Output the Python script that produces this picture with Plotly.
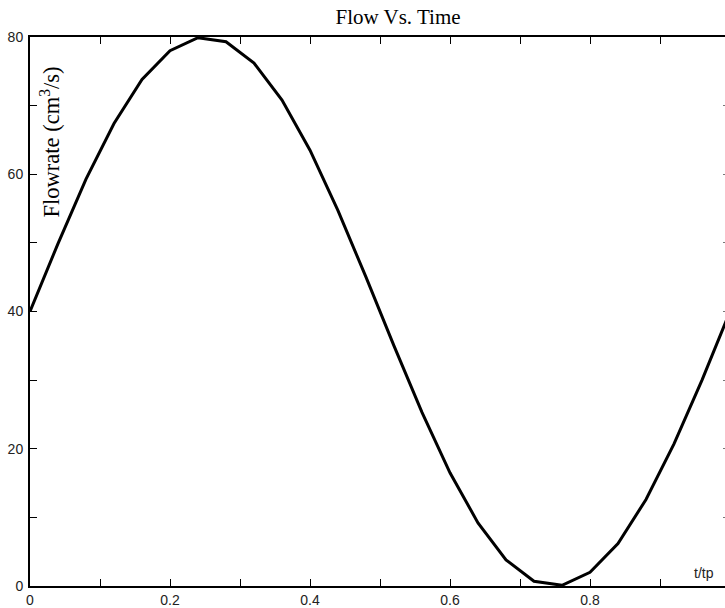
import plotly.graph_objects as go

t_over_tp = [0.00, 0.04, 0.08, 0.12, 0.16, 0.20, 0.24, 0.28, 0.32, 0.36, 0.40, 0.44, 0.48,
             0.52, 0.56, 0.60, 0.64, 0.68, 0.72, 0.76, 0.80, 0.84, 0.88, 0.92, 0.96, 1.00]
flowrate = [40.0, 49.9, 59.3, 67.4, 73.8, 78.0, 79.9, 79.3, 76.2, 70.8, 63.5, 54.7, 45.0,
            35.0, 25.3, 16.5, 9.2, 3.8, 0.7, 0.1, 2.0, 6.2, 12.6, 20.7, 30.0, 40.0]

x_ticks = [0.0, 0.2, 0.4, 0.6, 0.8]
x_tick_text = ["0", "0.2", "0.4", "0.6", "0.8"]
y_ticks = [0, 20, 40, 60, 80]
y_tick_text = ["0", "20", "40", "60", "80"]

W, H = 725, 608
ML, MR, MT, MB = 30, 0, 37, 19
px_per_unit_x = 700.0  # 0.1 per 70 px
x_max = (W - ML - MR) / px_per_unit_x

tick_font = dict(family="Liberation Sans, Arial, sans-serif", size=14, color="#222222")
serif = "Liberation Serif, Times New Roman, serif"

fig = go.Figure()
fig.add_trace(go.Scatter(x=t_over_tp, y=flowrate, mode="lines",
                         line=dict(color="black", width=3), showlegend=False,
                         hoverinfo="skip"))
# invisible trace to carry the right-side tick stubs
fig.add_trace(go.Scatter(x=[0], y=[0], yaxis="y2", mode="markers",
                         marker=dict(opacity=0), showlegend=False, hoverinfo="skip"))

fig.update_layout(
    width=W, height=H,
    margin=dict(l=ML, r=MR, t=MT, b=MB, pad=0),
    paper_bgcolor="white", plot_bgcolor="white",
    title=dict(text="Flow Vs. Time", x=398 / W, xanchor="center",
               y=1 - 17 / H, yanchor="middle",
               font=dict(family=serif, size=21, color="black")),
    xaxis=dict(range=[0, x_max], tickmode="array", tickvals=x_ticks, ticktext=x_tick_text,
               ticks="inside", ticklen=7, tickwidth=1, tickcolor="black",
               minor=dict(dtick=0.1, tick0=0, ticks="inside", ticklen=7, tickwidth=1,
                          tickcolor="black", showgrid=False),
               showline=True, linecolor="black", linewidth=2, mirror="ticks",
               showgrid=False, zeroline=False, tickfont=tick_font,
               ticklabelstandoff=0),
    yaxis=dict(range=[0, 80], tickmode="array", tickvals=y_ticks, ticktext=y_tick_text,
               ticks="inside", ticklen=7, tickwidth=1, tickcolor="black",
               minor=dict(dtick=10, tick0=0, ticks="inside", ticklen=7, tickwidth=1,
                          tickcolor="black", showgrid=False),
               showline=True, linecolor="black", linewidth=2, mirror=False,
               showgrid=False, zeroline=False, tickfont=tick_font,
               ticklabelstandoff=2),
    yaxis2=dict(range=[0, 80], overlaying="y", side="right", anchor="x",
                dtick=10, tick0=0, showticklabels=False,
                ticks="inside", ticklen=2, tickwidth=1, tickcolor="#777777",
                showline=False, showgrid=False, zeroline=False),
    annotations=[
        dict(text="Flowrate (cm<sup>3</sup>/s)", textangle=-90,
             xref="paper", yref="paper",
             x=(50 - ML) / (W - ML - MR), y=(H - MB - 143) / (H - MT - MB),
             xanchor="center", yanchor="middle", showarrow=False,
             font=dict(family=serif, size=22.5, color="black")),
        dict(text="t/tp", xref="paper", yref="paper",
             x=(704 - ML) / (W - ML - MR), y=(H - MB - 576) / (H - MT - MB),
             xanchor="center", yanchor="middle", showarrow=False,
             font=tick_font),
    ],
)

fig.write_html("out.html")
